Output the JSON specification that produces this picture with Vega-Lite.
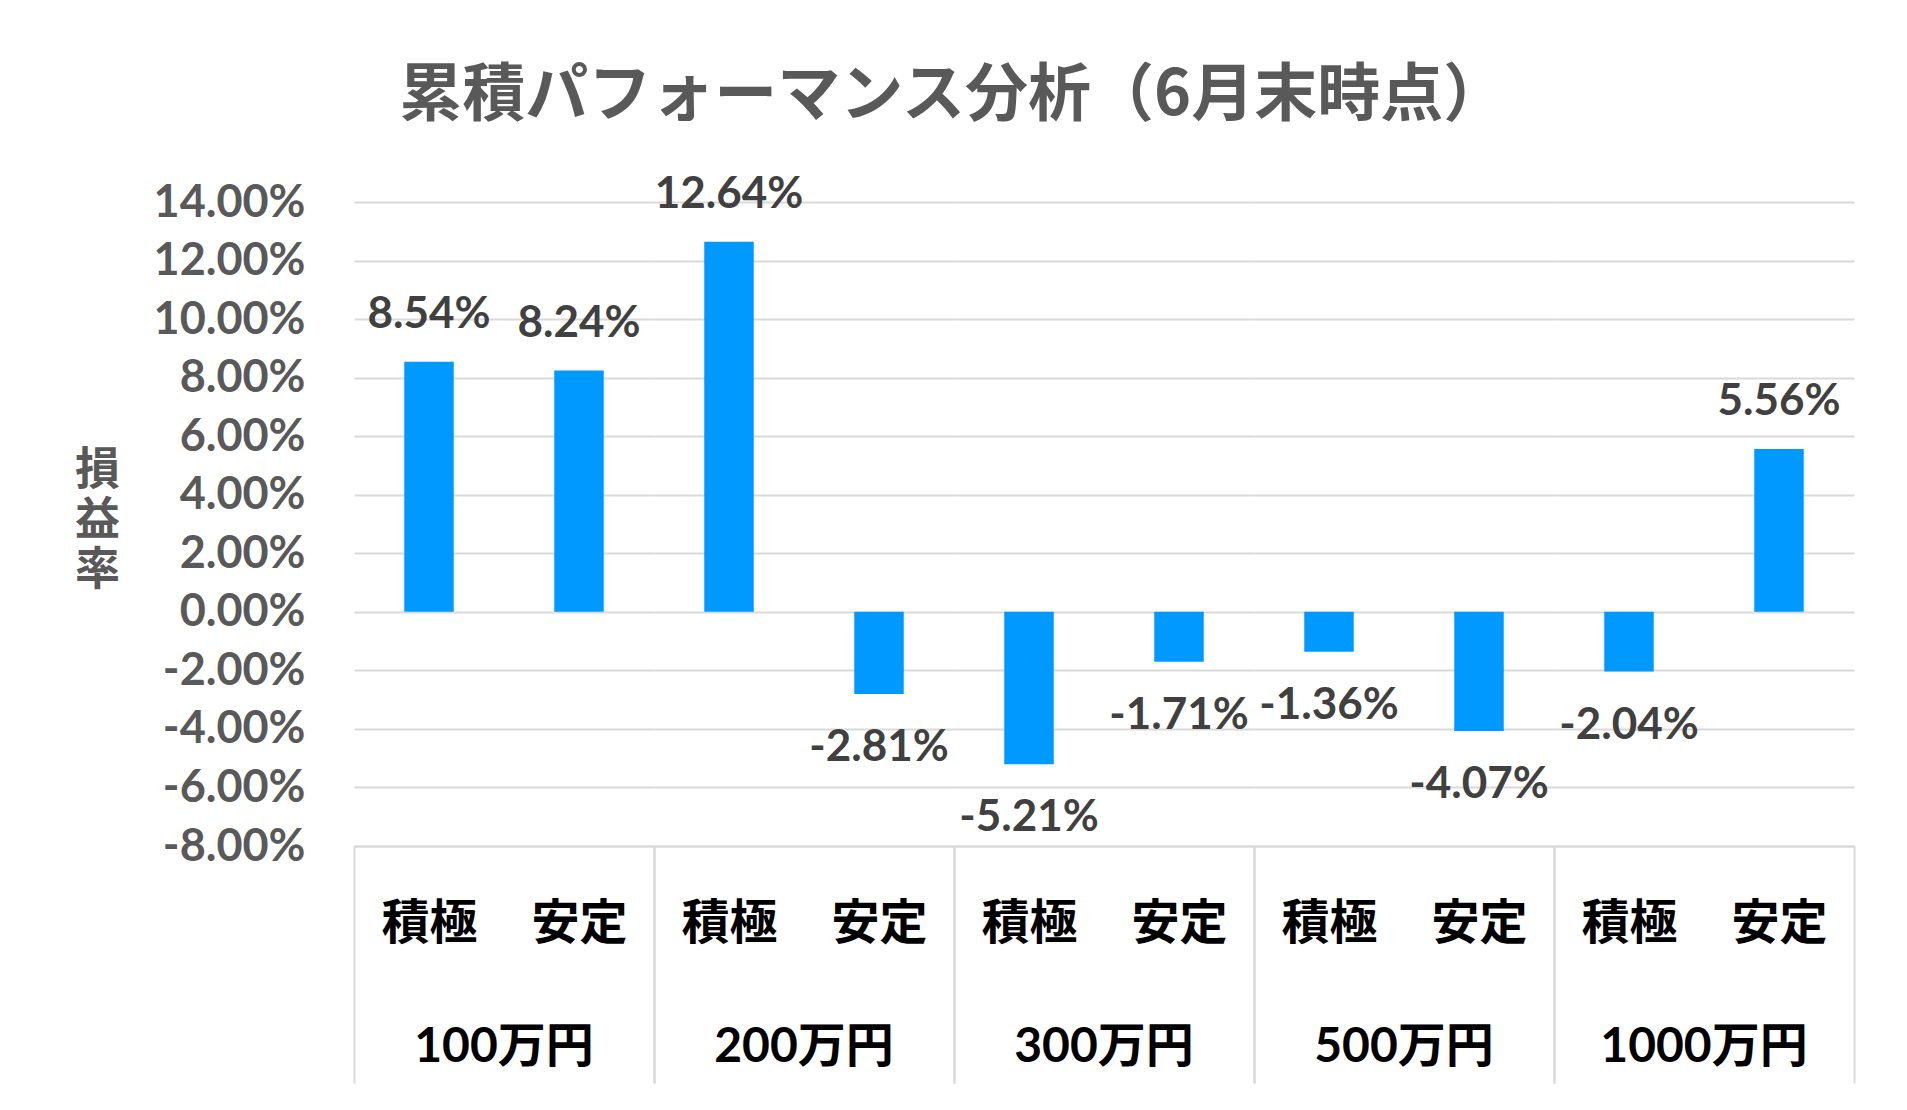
{
  "$schema": "https://vega.github.io/schema/vega-lite/v6.json",
  "background": "white",
  "padding": {"left": 74, "top": 64, "right": 5, "bottom": 5},
  "title": {
    "text": "累積パフォーマンス分析（6月末時点）",
    "font": "Noto Sans CJK JP",
    "fontSize": 63,
    "fontWeight": "bold",
    "color": "#595959",
    "anchor": "middle",
    "frame": "bounds",
    "offset": 45,
    "dx": -12
  },
  "data": {
    "values": [
      {"group": "100万円", "type": "積極", "value": 0.0854, "label": "8.54%"},
      {"group": "100万円", "type": "安定", "value": 0.0824, "label": "8.24%"},
      {"group": "200万円", "type": "積極", "value": 0.1264, "label": "12.64%"},
      {"group": "200万円", "type": "安定", "value": -0.0281, "label": "-2.81%"},
      {"group": "300万円", "type": "積極", "value": -0.0521, "label": "-5.21%"},
      {"group": "300万円", "type": "安定", "value": -0.0171, "label": "-1.71%"},
      {"group": "500万円", "type": "積極", "value": -0.0136, "label": "-1.36%"},
      {"group": "500万円", "type": "安定", "value": -0.0407, "label": "-4.07%"},
      {"group": "1000万円", "type": "積極", "value": -0.0204, "label": "-2.04%"},
      {"group": "1000万円", "type": "安定", "value": 0.0556, "label": "5.56%"}
    ]
  },
  "facet": {
    "column": {
      "field": "group",
      "type": "ordinal",
      "sort": ["100万円", "200万円", "300万円", "500万円", "1000万円"],
      "header": {
        "title": null,
        "labelOrient": "bottom",
        "labelFont": "Lato, Noto Sans CJK JP",
        "labelFontSize": 48,
        "labelFontWeight": "bold",
        "labelColor": "#000000",
        "labelPadding": -60
      }
    }
  },
  "spacing": 0,
  "spec": {
    "width": 300,
    "height": 644,
    "encoding": {
      "x": {
        "field": "type",
        "type": "nominal",
        "sort": ["積極", "安定"],
        "scale": {"paddingInner": 0, "paddingOuter": 0},
        "axis": {
          "title": null,
          "labelAngle": 0,
          "labelFont": "Noto Sans CJK JP",
          "labelFontSize": 48,
          "labelFontWeight": "bold",
          "labelColor": "#000000",
          "labelBaseline": "middle",
          "labelPadding": -159,
          "labelLimit": 0,
          "tickBand": "extent",
          "tickSize": 237,
          "tickWidth": 2,
          "tickColor": {"condition": {"test": "datum.value === '積極'", "value": "rgba(0,0,0,0)"}, "value": "#d9d9d9"},
          "domainColor": "#d9d9d9",
          "domainWidth": 2
        }
      },
      "y": {
        "field": "value",
        "type": "quantitative",
        "scale": {"domain": [-0.08, 0.14], "nice": false},
        "axis": {
          "values": [-0.08, -0.06, -0.04, -0.02, 0, 0.02, 0.04, 0.06, 0.08, 0.1, 0.12, 0.14],
          "labelExpr": "replace(format(datum.value, '.2%'), '\u2212', '-')",
          "labelFont": "Lato",
          "labelFontSize": 45,
          "labelFontWeight": "bold",
          "labelColor": "#595959",
          "labelPadding": 49,
          "ticks": false,
          "domain": false,
          "gridColor": "#d9d9d9",
          "gridWidth": 2,
          "title": ["損", "益", "率"],
          "titleAngle": 0,
          "titleFont": "Noto Sans CJK JP",
          "titleFontSize": 45,
          "titleFontWeight": "bold",
          "titleColor": "#595959",
          "titleLineHeight": 50,
          "titleAlign": "center",
          "titleBaseline": "top",
          "titleX": -257,
          "titleY": 246
        }
      }
    },
    "layer": [
      {
        "mark": {"type": "bar", "color": "#0099FF", "width": {"band": 0.33}}
      },
      {
        "transform": [{"filter": "datum.value >= 0"}],
        "mark": {"type": "text", "font": "Lato", "fontSize": 44, "fontWeight": "bold", "color": "#404040", "baseline": "alphabetic", "dy": -34},
        "encoding": {"text": {"field": "label"}}
      },
      {
        "transform": [{"filter": "datum.value < 0"}],
        "mark": {"type": "text", "font": "Lato", "fontSize": 44, "fontWeight": "bold", "color": "#404040", "baseline": "alphabetic", "dy": 67},
        "encoding": {"text": {"field": "label"}}
      }
    ]
  },
  "config": {"view": {"stroke": null}}
}
